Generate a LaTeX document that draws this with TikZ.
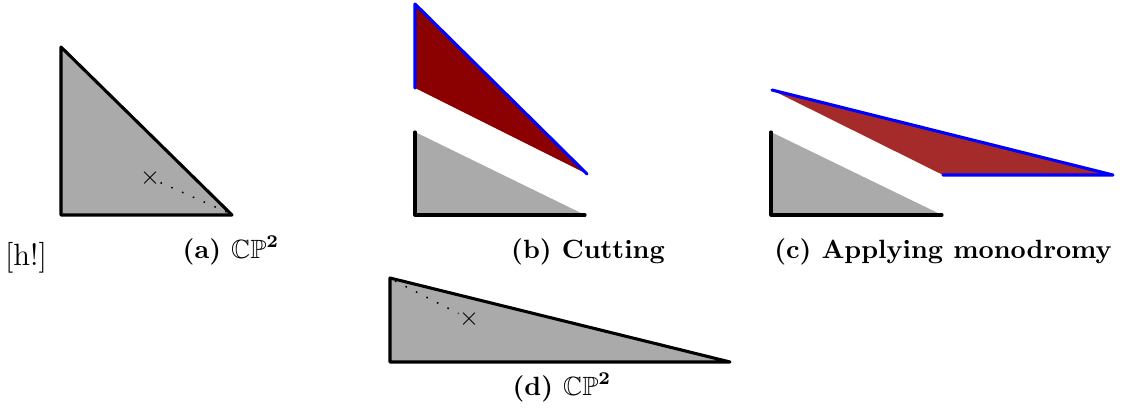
\documentclass[tikz,border=0pt]{standalone}
\usepackage{amsmath,amssymb}
\usepackage{xcolor}
\usetikzlibrary{positioning}
\definecolor{cpgrey}{HTML}{AAAAAA}
\definecolor{cutred}{HTML}{8B0000}
\definecolor{monored}{HTML}{A52A2A}

\begin{document}
\begin{tikzpicture}[
  x=0.39pt,y=-0.39pt,
  every node/.style={font=\normalsize},
  piece/.style={fill=cpgrey},
  rim/.style={line width=1.2pt,draw=black,line join=round,line cap=round},
  glued/.style={line width=1.2pt,draw=blue,line join=round,line cap=round},
  sublabel/.style={anchor=base,font=\fontsize{10.3}{12}\selectfont\bfseries},
  pointmark/.style={inner sep=0pt,font=\normalsize},
  ray/.style={loosely dotted,line width=0.6pt}
]
\useasboundingbox (0,0) rectangle (1126,416);

%% ---- (a) CP^2 ----
\fill[piece] (61,47) -- (61,215) -- (232,215) -- cycle;
\draw[rim] (61,47) -- (61,215) -- (232,215) -- cycle;
\node[pointmark] (xa) at (150,178) {$\times$};
\coordinate (ca) at (229,213);
\draw[ray] (xa) -- (ca);
\node[sublabel] (la) at (231,259) {(a) $\mathbb{CP}^{\mathbf{2}}$};
\node[anchor=base,font=\large] (hb) at (26,266) {[h!]};

%% ---- (b) cutting ----
\fill[cutred] (415,4) -- (415,88) -- (587,174) -- cycle;
\draw[glued] (415,88) -- (415,4) -- (587,174);
\fill[piece] (415,132) -- (415,215) -- (585,215) -- cycle;
\draw[rim] (415,132) -- (415,215) -- (585,215);
\node[sublabel] (lb) at (588,259) {(b) Cutting};

%% ---- (c) applying monodromy ----
\fill[monored] (772,90) -- (943,175) -- (1113,175) -- cycle;
\draw[glued] (943,175) -- (1113,175) -- (772,90);
\fill[piece] (771,132) -- (771,215) -- (942,215) -- cycle;
\draw[rim] (771,132) -- (771,215) -- (942,215);
\node[sublabel] (lc) at (943,259) {(c) Applying monodromy};

%% ---- (d) CP^2 again ----
\fill[piece] (390,278) -- (390,362) -- (730,362) -- cycle;
\draw[rim] (390,278) -- (390,362) -- (730,362) -- cycle;
\node[pointmark] (xd) at (469,319) {$\times$};
\coordinate (cd) at (395,281);
\draw[ray] (cd) -- (xd);
\node[sublabel] (ld) at (562,396) {(d) $\mathbb{CP}^{\mathbf{2}}$};

\end{tikzpicture}
\end{document}
